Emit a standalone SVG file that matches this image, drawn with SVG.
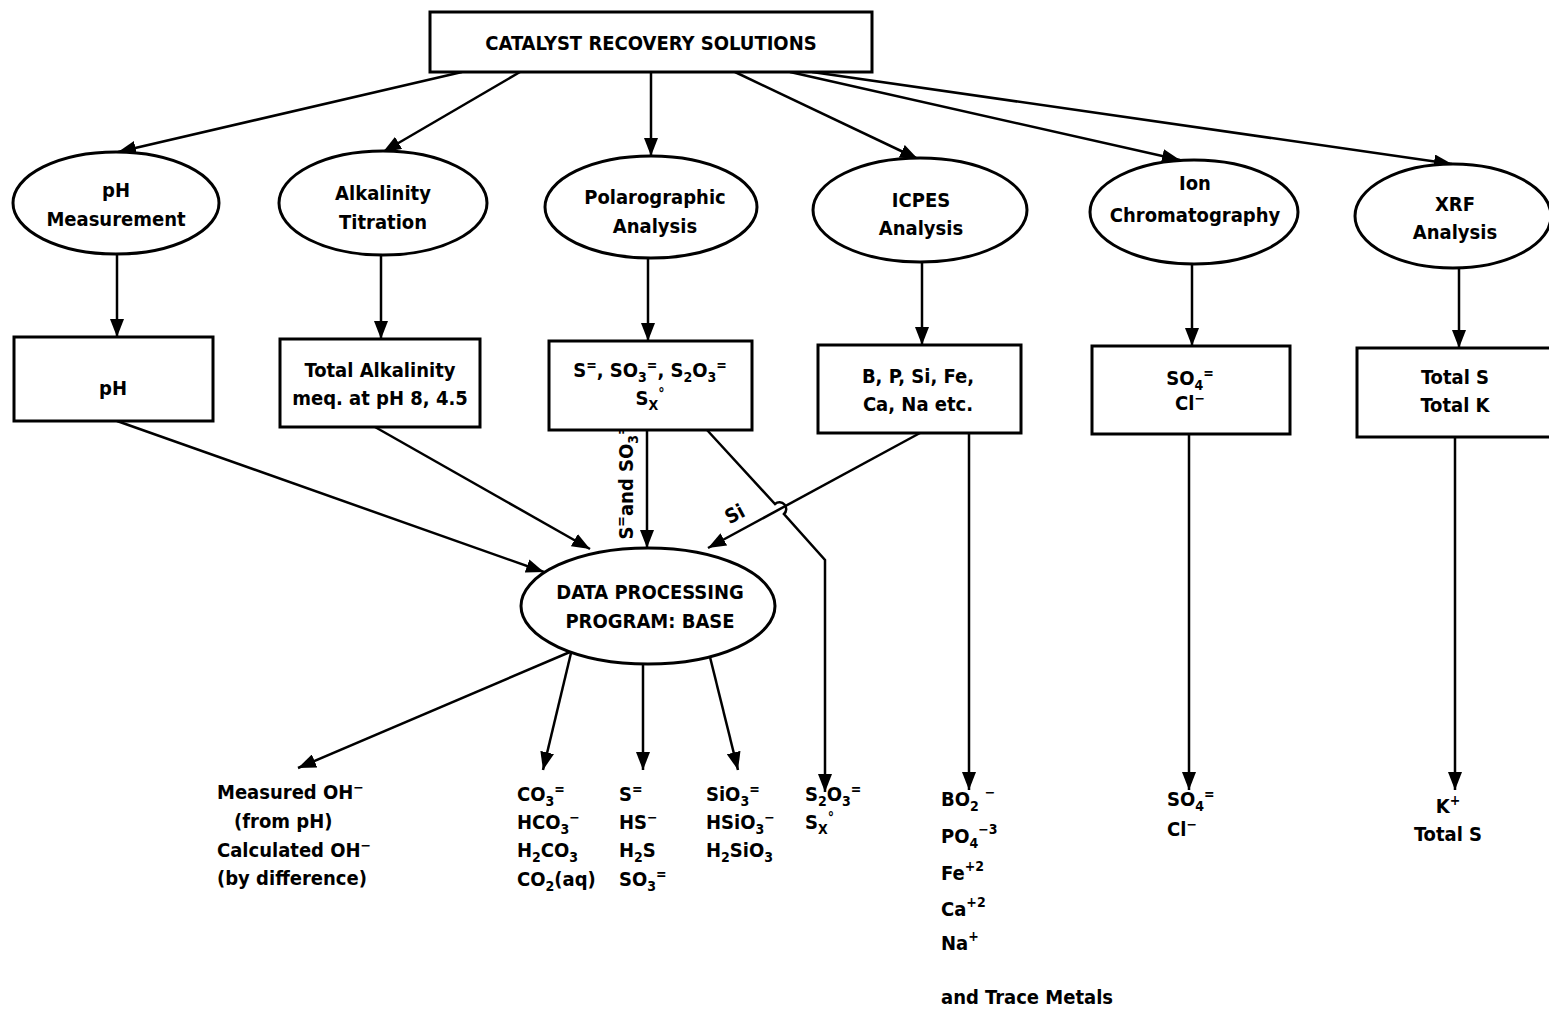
<svg xmlns="http://www.w3.org/2000/svg" width="1549" height="1011" viewBox="0 0 1549 1011">
<style>
.t{font-family:"DejaVu Sans Condensed","Liberation Sans",sans-serif;font-weight:bold;font-size:20px;fill:#000;text-anchor:middle}
.l{text-anchor:start}
.s{font-size:14px}
.n{fill:#fff;stroke:#000;stroke-width:3}
.c{fill:none;stroke:#000;stroke-width:2.5}
</style>
<defs>
<marker id="ah" viewBox="0 0 18 14" refX="18" refY="7" markerWidth="18" markerHeight="14" orient="auto" markerUnits="userSpaceOnUse"><path d="M0,0 L18,7 L0,14 z" fill="#000"/></marker>
</defs>
<rect width="1549" height="1011" fill="#fff"/>
<g id="connectors">
<line class="c" x1="462" y1="72" x2="118" y2="152" marker-end="url(#ah)"/>
<line class="c" x1="520" y1="72" x2="383" y2="152" marker-end="url(#ah)"/>
<line class="c" x1="651" y1="72" x2="651" y2="156" marker-end="url(#ah)"/>
<line class="c" x1="735" y1="72" x2="918" y2="159" marker-end="url(#ah)"/>
<line class="c" x1="790" y1="72" x2="1180" y2="160" marker-end="url(#ah)"/>
<line class="c" x1="812" y1="72" x2="1452" y2="164" marker-end="url(#ah)"/>
<line class="c" x1="117" y1="254" x2="117" y2="337" marker-end="url(#ah)"/>
<line class="c" x1="381" y1="255" x2="381" y2="339" marker-end="url(#ah)"/>
<line class="c" x1="648" y1="258" x2="648" y2="341" marker-end="url(#ah)"/>
<line class="c" x1="922" y1="262" x2="922" y2="345" marker-end="url(#ah)"/>
<line class="c" x1="1192" y1="264" x2="1192" y2="346" marker-end="url(#ah)"/>
<line class="c" x1="1459" y1="268" x2="1459" y2="348" marker-end="url(#ah)"/>
<line class="c" x1="117" y1="421" x2="544" y2="572" marker-end="url(#ah)"/>
<line class="c" x1="375" y1="427" x2="590" y2="549" marker-end="url(#ah)"/>
<line class="c" x1="647" y1="430" x2="647" y2="548" marker-end="url(#ah)"/>
<line class="c" x1="920" y1="433" x2="708" y2="548" marker-end="url(#ah)"/>
<path class="c" d="M707,430 L775,504 A6,6 0 0 1 784,514 L825,560 L825,792" marker-end="url(#ah)"/>
<line class="c" x1="969" y1="433" x2="969" y2="790" marker-end="url(#ah)"/>
<line class="c" x1="1189" y1="434" x2="1189" y2="790" marker-end="url(#ah)"/>
<line class="c" x1="1455" y1="437" x2="1455" y2="790" marker-end="url(#ah)"/>
<line class="c" x1="577" y1="649" x2="298" y2="768" marker-end="url(#ah)"/>
<line class="c" x1="571" y1="653" x2="543" y2="770" marker-end="url(#ah)"/>
<line class="c" x1="643" y1="664" x2="643" y2="770" marker-end="url(#ah)"/>
<line class="c" x1="710" y1="657" x2="738" y2="770" marker-end="url(#ah)"/>
<text class="t" transform="translate(633,482) rotate(-90)">S<tspan class="s" dy="-7">=</tspan><tspan dy="7">and SO</tspan><tspan class="s" dy="5">3</tspan><tspan class="s" dy="-12">=</tspan></text>
<text class="t" transform="translate(738,520) rotate(-28)">Si</text>
</g>
<g id="catalyst">
<rect class="n" x="430" y="12" width="442" height="60"/>
<text class="t" x="651" y="50">CATALYST RECOVERY SOLUTIONS</text>
</g>
<g id="ph-measurement">
<ellipse class="n" cx="116" cy="203" rx="103" ry="51"/>
<text class="t" x="116" y="197">pH</text>
<text class="t" x="116" y="226">Measurement</text>
</g>
<g id="alkalinity-titration">
<ellipse class="n" cx="383" cy="203" rx="104" ry="52"/>
<text class="t" x="383" y="200">Alkalinity</text>
<text class="t" x="383" y="229">Titration</text>
</g>
<g id="polarographic">
<ellipse class="n" cx="651" cy="207" rx="106" ry="51"/>
<text class="t" x="655" y="204">Polarographic</text>
<text class="t" x="655" y="233">Analysis</text>
</g>
<g id="icpes">
<ellipse class="n" cx="920" cy="210" rx="107" ry="52"/>
<text class="t" x="921" y="207">ICPES</text>
<text class="t" x="921" y="235">Analysis</text>
</g>
<g id="ion-chromatography">
<ellipse class="n" cx="1194" cy="212" rx="104" ry="52"/>
<text class="t" x="1195" y="190">Ion</text>
<text class="t" x="1195" y="222">Chromatography</text>
</g>
<g id="xrf">
<ellipse class="n" cx="1453" cy="216" rx="98" ry="52"/>
<text class="t" x="1455" y="211">XRF</text>
<text class="t" x="1455" y="239">Analysis</text>
</g>
<g id="ph-box">
<rect class="n" x="14" y="337" width="199" height="84"/>
<text class="t" x="113" y="395">pH</text>
</g>
<g id="alkalinity-box">
<rect class="n" x="280" y="339" width="200" height="88"/>
<text class="t" x="380" y="377">Total Alkalinity</text>
<text class="t" x="380" y="405">meq. at pH 8, 4.5</text>
</g>
<g id="polarographic-box">
<rect class="n" x="549" y="341" width="203" height="89"/>
<text class="t" x="650" y="377">S<tspan class="s" dy="-7">=</tspan><tspan dy="7">, SO</tspan><tspan class="s" dy="5">3</tspan><tspan class="s" dy="-12">=</tspan><tspan dy="7">, S</tspan><tspan class="s" dy="5">2</tspan><tspan dy="-5">O</tspan><tspan class="s" dy="5">3</tspan><tspan class="s" dy="-12">=</tspan></text>
<text class="t" x="650" y="405">S<tspan class="s" dy="5">X</tspan><tspan class="s" dy="-12">°</tspan></text>
</g>
<g id="icpes-box">
<rect class="n" x="818" y="345" width="203" height="88"/>
<text class="t" x="918" y="383">B, P, Si, Fe,</text>
<text class="t" x="918" y="411">Ca,  Na etc.</text>
</g>
<g id="ion-box">
<rect class="n" x="1092" y="346" width="198" height="88"/>
<text class="t" x="1190" y="385">SO<tspan class="s" dy="5">4</tspan><tspan class="s" dy="-12">=</tspan></text>
<text class="t" x="1190" y="410">Cl<tspan class="s" dy="-7">−</tspan></text>
</g>
<g id="xrf-box">
<rect class="n" x="1357" y="348" width="200" height="89"/>
<text class="t" x="1455" y="384">Total S</text>
<text class="t" x="1455" y="412">Total K</text>
</g>
<g id="data-processing">
<ellipse class="n" cx="648" cy="606" rx="127" ry="58"/>
<text class="t" x="650" y="599">DATA PROCESSING</text>
<text class="t" x="650" y="628">PROGRAM: BASE</text>
</g>
<g id="out-oh">
<text class="t l" x="217" y="799">Measured OH<tspan class="s" dy="-7">−</tspan></text>
<text class="t l" x="234" y="828">(from pH)</text>
<text class="t l" x="217" y="857">Calculated OH<tspan class="s" dy="-7">−</tspan></text>
<text class="t l" x="217" y="885">(by difference)</text>
</g>
<g id="out-carbonate">
<text class="t l" x="517" y="801">CO<tspan class="s" dy="5">3</tspan><tspan class="s" dy="-12">=</tspan></text>
<text class="t l" x="517" y="829">HCO<tspan class="s" dy="5">3</tspan><tspan class="s" dy="-12">−</tspan></text>
<text class="t l" x="517" y="857">H<tspan class="s" dy="5">2</tspan><tspan dy="-5">CO</tspan><tspan class="s" dy="5">3</tspan></text>
<text class="t l" x="517" y="886">CO<tspan class="s" dy="5">2</tspan><tspan dy="-5">(aq)</tspan></text>
</g>
<g id="out-sulfide">
<text class="t l" x="619" y="801">S<tspan class="s" dy="-7">=</tspan></text>
<text class="t l" x="619" y="829">HS<tspan class="s" dy="-7">−</tspan></text>
<text class="t l" x="619" y="857">H<tspan class="s" dy="5">2</tspan><tspan dy="-5">S</tspan></text>
<text class="t l" x="619" y="886">SO<tspan class="s" dy="5">3</tspan><tspan class="s" dy="-12">=</tspan></text>
</g>
<g id="out-silicate">
<text class="t l" x="706" y="801">SiO<tspan class="s" dy="5">3</tspan><tspan class="s" dy="-12">=</tspan></text>
<text class="t l" x="706" y="829">HSiO<tspan class="s" dy="5">3</tspan><tspan class="s" dy="-12">−</tspan></text>
<text class="t l" x="706" y="857">H<tspan class="s" dy="5">2</tspan><tspan dy="-5">SiO</tspan><tspan class="s" dy="5">3</tspan></text>
</g>
<g id="out-thiosulfate">
<text class="t l" x="805" y="801">S<tspan class="s" dy="5">2</tspan><tspan dy="-5">O</tspan><tspan class="s" dy="5">3</tspan><tspan class="s" dy="-12">=</tspan></text>
<text class="t l" x="805" y="829">S<tspan class="s" dy="5">X</tspan><tspan class="s" dy="-12">°</tspan></text>
</g>
<g id="out-icpes">
<text class="t l" x="941" y="806">BO<tspan class="s" dy="5">2</tspan><tspan class="s" dx="6" dy="-14">−</tspan></text>
<text class="t l" x="941" y="843">PO<tspan class="s" dy="5">4</tspan><tspan class="s" dy="-14">−3</tspan></text>
<text class="t l" x="941" y="880">Fe<tspan class="s" dy="-9">+2</tspan></text>
<text class="t l" x="941" y="916">Ca<tspan class="s" dy="-9">+2</tspan></text>
<text class="t l" x="941" y="950">Na<tspan class="s" dy="-9">+</tspan></text>
<text class="t l" x="941" y="1004">and Trace Metals</text>
</g>
<g id="out-ion">
<text class="t l" x="1167" y="806">SO<tspan class="s" dy="5">4</tspan><tspan class="s" dy="-12">=</tspan></text>
<text class="t l" x="1167" y="836">Cl<tspan class="s" dy="-7">−</tspan></text>
</g>
<g id="out-xrf">
<text class="t" x="1448" y="813">K<tspan class="s" dy="-8">+</tspan></text>
<text class="t" x="1448" y="841">Total S</text>
</g>
</svg>
